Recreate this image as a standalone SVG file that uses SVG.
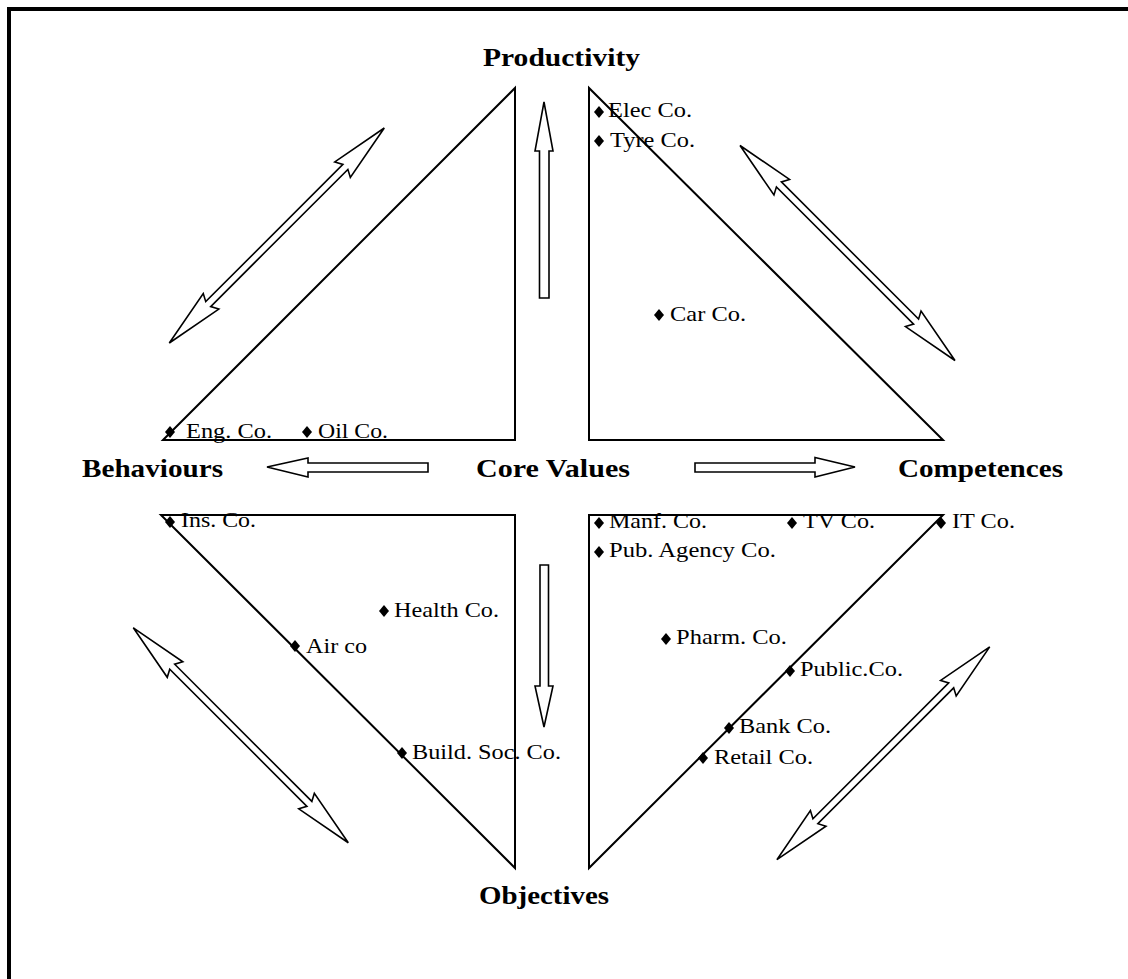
<svg xmlns="http://www.w3.org/2000/svg" xmlns:xlink="http://www.w3.org/1999/xlink" width="1128" height="979" viewBox="0 0 1128 979">
<style>
.big{font-family:"Liberation Serif","Times New Roman",serif;font-weight:bold;font-size:26px;fill:#000}
.lbl{font-family:"Liberation Serif","Times New Roman",serif;font-size:21px;fill:#000}
.tri{fill:none;stroke:#000;stroke-width:2;stroke-linejoin:miter}
.arr{fill:#fff;stroke:#000;stroke-width:1.6;stroke-linejoin:miter}
.frame{stroke:#000;stroke-width:4;fill:none}
</style>
<defs>
<path id="dia" d="M0,-6 L5,0 L0,6 L-5,0 Z" fill="#000"/>
<path id="dbl" d="M152,0 L93,11 L97,3.5 L-97,3.5 L-93,11 L-152,0 L-93,-11 L-97,-3.5 L97,-3.5 L93,-11 Z"/>
</defs>
<rect width="1128" height="979" fill="#fff"/>
<path class="frame" d="M9,979 L9,9 L1128,9"/>

<g id="quadrant-productivity-behaviours">
<polygon class="tri" points="163,440 515,88 515,440"/>
<g id="eng-co"><use xlink:href="#dia" x="170" y="432"/><text class="lbl" x="186" y="438" textLength="86" lengthAdjust="spacingAndGlyphs">Eng. Co.</text></g>
<g id="oil-co"><use xlink:href="#dia" x="307" y="432"/><text class="lbl" x="318" y="438" textLength="70" lengthAdjust="spacingAndGlyphs">Oil Co.</text></g>
</g>

<g id="quadrant-productivity-competences">
<polygon class="tri" points="589,88 589,440 943,440"/>
<g id="elec-co"><use xlink:href="#dia" x="599" y="112"/><text class="lbl" x="608" y="117" textLength="84" lengthAdjust="spacingAndGlyphs">Elec Co.</text></g>
<g id="tyre-co"><use xlink:href="#dia" x="599" y="141"/><text class="lbl" x="610" y="147" textLength="85" lengthAdjust="spacingAndGlyphs">Tyre Co.</text></g>
<g id="car-co"><use xlink:href="#dia" x="659" y="315"/><text class="lbl" x="670" y="321" textLength="76" lengthAdjust="spacingAndGlyphs">Car Co.</text></g>
</g>

<g id="quadrant-objectives-behaviours">
<polygon class="tri" points="161,515 515,515 515,868"/>
<g id="ins-co"><use xlink:href="#dia" x="170" y="522"/><text class="lbl" x="181" y="527" textLength="75" lengthAdjust="spacingAndGlyphs">Ins. Co.</text></g>
<g id="health-co"><use xlink:href="#dia" x="384" y="611"/><text class="lbl" x="394" y="617" textLength="105" lengthAdjust="spacingAndGlyphs">Health Co.</text></g>
<g id="air-co"><use xlink:href="#dia" x="295" y="646"/><text class="lbl" x="306" y="653" textLength="61" lengthAdjust="spacingAndGlyphs">Air co</text></g>
<g id="build-soc-co"><use xlink:href="#dia" x="402" y="753"/><text class="lbl" x="412" y="759" textLength="149" lengthAdjust="spacingAndGlyphs">Build. Soc. Co.</text></g>
</g>

<g id="quadrant-objectives-competences">
<polygon class="tri" points="589,515 943,515 589,868"/>
<g id="manf-co"><use xlink:href="#dia" x="599" y="523"/><text class="lbl" x="609" y="528" textLength="98" lengthAdjust="spacingAndGlyphs">Manf. Co.</text></g>
<g id="tv-co"><use xlink:href="#dia" x="792" y="523"/><text class="lbl" x="803" y="528" textLength="72" lengthAdjust="spacingAndGlyphs">TV Co.</text></g>
<g id="it-co"><use xlink:href="#dia" x="941" y="523"/><text class="lbl" x="952" y="528" textLength="63" lengthAdjust="spacingAndGlyphs">IT Co.</text></g>
<g id="pub-agency-co"><use xlink:href="#dia" x="599" y="552"/><text class="lbl" x="609" y="557" textLength="167" lengthAdjust="spacingAndGlyphs">Pub. Agency Co.</text></g>
<g id="pharm-co"><use xlink:href="#dia" x="666" y="639"/><text class="lbl" x="676" y="644" textLength="111" lengthAdjust="spacingAndGlyphs">Pharm. Co.</text></g>
<g id="public-co"><use xlink:href="#dia" x="790" y="671"/><text class="lbl" x="800" y="676" textLength="103" lengthAdjust="spacingAndGlyphs">Public.Co.</text></g>
<g id="bank-co"><use xlink:href="#dia" x="729" y="728"/><text class="lbl" x="739" y="733" textLength="92" lengthAdjust="spacingAndGlyphs">Bank Co.</text></g>
<g id="retail-co"><use xlink:href="#dia" x="703" y="758"/><text class="lbl" x="714" y="764" textLength="99" lengthAdjust="spacingAndGlyphs">Retail Co.</text></g>
</g>

<g id="productivity"><text class="big" x="483" y="66" textLength="157" lengthAdjust="spacingAndGlyphs">Productivity</text></g>
<g id="behaviours"><text class="big" x="82" y="477" textLength="141" lengthAdjust="spacingAndGlyphs">Behaviours</text></g>
<g id="core-values"><text class="big" x="476" y="477" textLength="154" lengthAdjust="spacingAndGlyphs">Core Values</text></g>
<g id="competences"><text class="big" x="898" y="477" textLength="165" lengthAdjust="spacingAndGlyphs">Competences</text></g>
<g id="objectives"><text class="big" x="479" y="904" textLength="130" lengthAdjust="spacingAndGlyphs">Objectives</text></g>

<g id="connectors">
<polygon class="arr" points="544,102 553,151 549,151 549,298 539.5,298 539.5,151 535,151"/>
<polygon class="arr" points="544,727 553,686 548.5,686 548.5,565 540,565 540,686 535,686"/>
<polygon class="arr" points="267,467 308,458 308,463 428,463 428,472 308,472 308,477"/>
<polygon class="arr" points="855,467 815,457.5 815,463 695,463 695,472 815,472 815,477"/>
<use class="arr" xlink:href="#dbl" transform="translate(276.8,235.5) rotate(-45)"/>
<use class="arr" xlink:href="#dbl" transform="translate(847.5,253) rotate(45)"/>
<use class="arr" xlink:href="#dbl" transform="translate(240.8,735.3) rotate(45)"/>
<use class="arr" xlink:href="#dbl" transform="translate(883.3,753.3) rotate(-45) scale(0.99,1)"/>
</g>
</svg>
